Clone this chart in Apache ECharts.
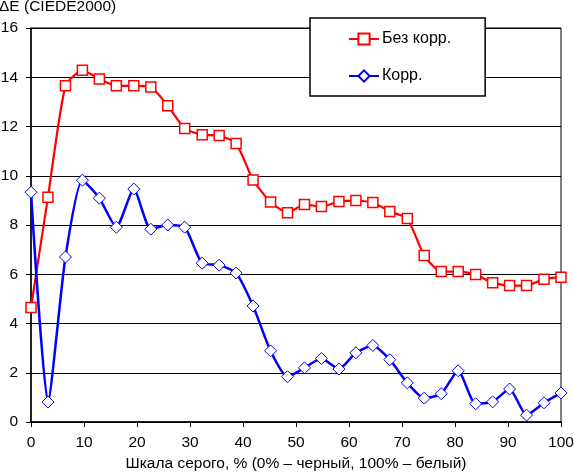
<!DOCTYPE html>
<html>
<head>
<meta charset="utf-8">
<script src="https://cdn.jsdelivr.net/npm/echarts@6/dist/echarts.min.js"></script>
<style>
html,body{margin:0;padding:0;background:#fff;}
#c{width:574px;height:472px;}
</style>
</head>
<body>
<div id="c"></div>
<script>
// Gray levels (% of scale), x positions of the samples
var grayLevels = [0, 3.2, 6.5, 9.7, 12.9, 16.1, 19.4, 22.6, 25.8, 29.0, 32.3, 35.5, 38.7, 41.9, 45.2, 48.4,
  51.6, 54.8, 58.1, 61.3, 64.5, 67.7, 71.0, 74.2, 77.4, 80.6, 83.9, 87.1, 90.3, 93.5, 96.8, 100];
// ΔE without correction
var noCorr = [4.65, 9.13, 13.65, 14.28, 13.93, 13.65, 13.65, 13.6, 12.84, 11.92, 11.66, 11.63, 11.31, 9.83, 8.93, 8.5,
  8.83, 8.75, 8.95, 8.99, 8.91, 8.55, 8.26, 6.76, 6.11, 6.11, 5.99, 5.65, 5.54, 5.54, 5.8, 5.88];
// ΔE with correction
var corr = [9.33, 0.81, 6.7, 9.82, 9.09, 7.91, 9.46, 7.83, 8.0, 7.91, 6.45, 6.37, 6.05, 4.71, 2.89, 1.84,
  2.2, 2.58, 2.15, 2.81, 3.11, 2.53, 1.59, 0.97, 1.15, 2.08, 0.74, 0.82, 1.34, 0.28, 0.78, 1.18];
var seriesNames = ['Без корр.', 'Корр.'];
var xTitle = 'Шкала серого, % (0% – черный, 100% – белый)';
var yTitle = 'ΔE (CIEDE2000)';

function pairs(ys){ return ys.map(function(v,i){ return [grayLevels[i], v]; }); }

var font = 'Arial, "Liberation Sans", sans-serif';
var chart = echarts.init(document.getElementById('c'), null, {renderer:'canvas'});
chart.setOption({
  animation:false,
  backgroundColor:'#fff',
  title:{text:yTitle,left:-1,top:-1,padding:0,textStyle:{fontFamily:font,fontSize:15.5,fontWeight:'normal',color:'#000'}},
  grid:{left:31,right:13,top:28,bottom:50,show:true,borderColor:'#000',borderWidth:1,containLabel:false,outerBoundsMode:'none'},
  legend:{
    orient:'vertical',left:310,top:18,
    backgroundColor:'#fff',borderColor:'#000',borderWidth:1.5,borderRadius:0,
    padding:[13,34,12,38],itemGap:21,itemWidth:30,itemHeight:14,
    textStyle:{fontFamily:font,fontSize:16,color:'#000',padding:[0,0,0,-2]},
    data:seriesNames
  },
  xAxis:{
    type:'value',min:0,max:100,interval:10,
    name:xTitle,nameLocation:'middle',nameGap:34,
    nameTextStyle:{fontFamily:font,fontSize:15.5,color:'#000'},
    axisLine:{lineStyle:{color:'#000',width:1.5}},
    axisTick:{show:true,length:5,lineStyle:{color:'#000'}},
    axisLabel:{fontFamily:font,fontSize:15.5,color:'#000',margin:13},
    splitLine:{show:false}
  },
  yAxis:{
    type:'value',min:0,max:16,interval:2,
    axisLine:{show:true,lineStyle:{color:'#000',width:1.5}},
    axisTick:{show:true,length:5,lineStyle:{color:'#000'}},
    axisLabel:{fontFamily:font,fontSize:15.5,color:'#000',margin:13},
    splitLine:{show:true,lineStyle:{color:'#000',width:1.2}}
  },
  series:[
    {name:seriesNames[0],type:'line',data:pairs(noCorr),smooth:0.2,
     symbol:'rect',symbolSize:10,showAllSymbol:true,
     lineStyle:{color:'#ff0000',width:2.2},
     itemStyle:{color:'#fff',borderColor:'#ff0000',borderWidth:1.5},
     z:3},
    {name:seriesNames[1],type:'line',data:pairs(corr),smooth:0.2,
     symbol:'diamond',symbolSize:[12,12],showAllSymbol:true,
     lineStyle:{color:'#0000ff',width:2.5},
     itemStyle:{color:'#fff',borderColor:'#0000ff',borderWidth:1},
     z:4}
  ]
});
</script>
</body>
</html>
